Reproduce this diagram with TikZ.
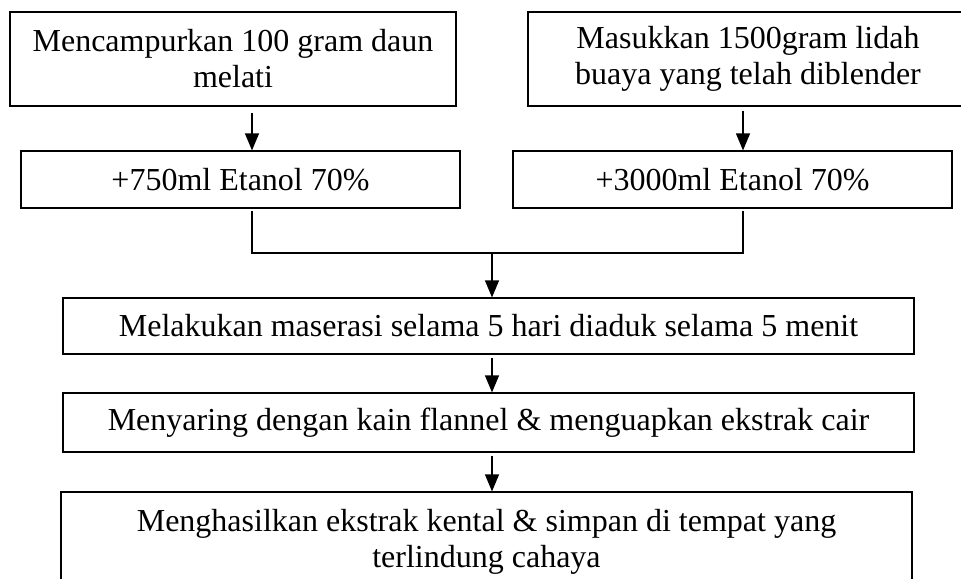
\documentclass[tikz,border=0pt]{standalone}
\usepackage{fontspec}
\setmainfont{Liberation Serif}
\usetikzlibrary{arrows.meta}
\begin{document}
\begin{tikzpicture}[x=0.5pt,y=-0.5pt,
  box/.style={draw=black, line width=0.6pt, rectangle, inner sep=0pt, align=center,
    font=\fontsize{16}{18}\selectfont},
  conn/.style={draw=black, line width=0.6pt},
  arr/.style={conn, -{Triangle[length=8.5pt,width=7pt]}}]
\useasboundingbox (0,0) rectangle (961,578);
\clip (0,0) rectangle (961,578);
\fill[white] (0,0) rectangle (961,578);
\node[box, minimum width=223pt, minimum height=47pt] (b1) at (233,59) {Mencampurkan 100 gram daun\\melati};
\node[box, minimum width=220pt, minimum height=47pt] (b2) at (748,59) {Masukkan 1500gram lidah\\buaya yang telah diblender};
\node[box, minimum width=219.5pt, minimum height=28.5pt] (b3) at (240.5,179.5) {+750ml Etanol 70\%};
\node[box, minimum width=219.5pt, minimum height=28.5pt] (b4) at (732.5,179.5) {+3000ml Etanol 70\%};
\node[box, minimum width=425.5pt, minimum height=28pt] (b5) at (488.5,326) {Melakukan maserasi selama 5 hari diaduk selama 5 menit};
\node[box, minimum width=425.5pt, minimum height=29.5pt] (b6) at (488.5,422.5) {Menyaring dengan kain flannel \& menguapkan ekstrak cair};
\node[box, minimum width=425.5pt, minimum height=50pt] (b7) at (486.5,542) {Menghasilkan ekstrak kental \& simpan di tempat yang\\terlindung cahaya};
\coordinate (m) at (492,253);
\draw[arr] ([xshift=9.5pt,yshift=-3pt]b1.south) -- ([xshift=5.75pt]b3.north);
\draw[arr] ([xshift=-2.5pt,yshift=-2pt]b2.south) -- ([xshift=5.25pt]b4.north);
\draw[conn] ([xshift=5.75pt,yshift=-1pt]b3.south) |- (m) -| ([xshift=5.25pt,yshift=-1pt]b4.south);
\draw[arr] (m) -- ([xshift=1.75pt]b5.north);
\draw[arr] ([xshift=1.75pt,yshift=-1.5pt]b5.south) -- ([xshift=1.75pt]b6.north);
\draw[arr] ([xshift=1.75pt,yshift=-1.5pt]b6.south) -- ([xshift=2.75pt]b7.north);
\end{tikzpicture}
\end{document}
